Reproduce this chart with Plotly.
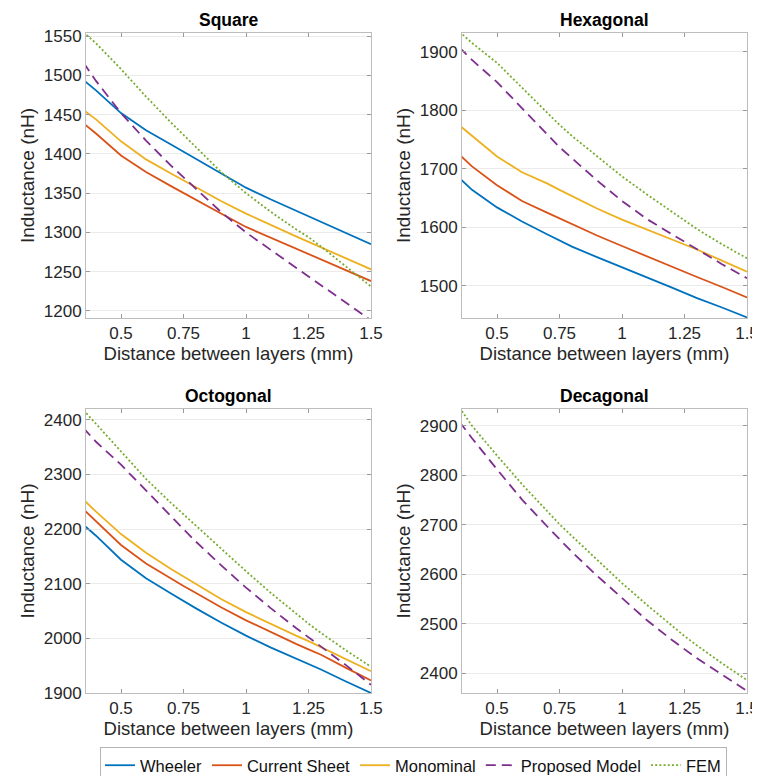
import plotly.graph_objects as go

# ---------------- data ----------------
x_mm = [0.35, 0.4, 0.5, 0.6, 0.7, 0.75, 0.8, 0.9, 1.0, 1.1, 1.2, 1.25, 1.3, 1.4, 1.5]

series_names = ["Wheeler", "Current Sheet", "Monominal", "Proposed Model", "FEM"]

# Square
sq_wheeler  = [1494, 1481, 1452, 1430, 1412, 1403, 1394, 1375, 1357, 1342, 1328, 1320, 1314, 1300, 1285]
sq_current  = [1439, 1426, 1398, 1377, 1359, 1350, 1342, 1324, 1307, 1293, 1280, 1273, 1266, 1252, 1238]
sq_monom    = [1456, 1444, 1416, 1393, 1375, 1366, 1358, 1340, 1324, 1309, 1295, 1288, 1281, 1267, 1253]
sq_proposed = [1516, 1493, 1452, 1417, 1385, 1370, 1356, 1326, 1300, 1277, 1255, 1244, 1233, 1210, 1188]
sq_fem      = [1555, 1541, 1508, 1473, 1440, 1424, 1408, 1377, 1350, 1326, 1304, 1294, 1282, 1257, 1231]

# Hexagonal
hx_wheeler  = [1684, 1664, 1634, 1610, 1588, 1577, 1567, 1549, 1532, 1514, 1497, 1488, 1479, 1463, 1446]
hx_current  = [1724, 1704, 1672, 1645, 1625, 1615, 1605, 1586, 1568, 1550, 1532, 1523, 1515, 1498, 1480]
hx_monom    = [1774, 1756, 1721, 1694, 1675, 1664, 1653, 1632, 1613, 1596, 1580, 1571, 1562, 1543, 1524]
hx_proposed = [1907, 1886, 1848, 1803, 1758, 1737, 1718, 1680, 1645, 1614, 1588, 1575, 1562, 1537, 1513]
hx_fem      = [1934, 1915, 1881, 1838, 1795, 1775, 1756, 1721, 1687, 1656, 1626, 1611, 1597, 1571, 1547]

# Octogonal
oc_wheeler  = [2208, 2188, 2144, 2110, 2082, 2068, 2055, 2029, 2005, 1983, 1963, 1953, 1943, 1921, 1900]
oc_current  = [2236, 2214, 2171, 2137, 2109, 2096, 2083, 2057, 2033, 2011, 1990, 1980, 1970, 1946, 1923]
oc_monom    = [2254, 2232, 2191, 2157, 2127, 2113, 2099, 2072, 2048, 2026, 2005, 1995, 1984, 1962, 1940]
oc_proposed = [2385, 2360, 2318, 2270, 2224, 2200, 2177, 2134, 2093, 2055, 2019, 2002, 1985, 1951, 1915]
oc_fem      = [2418, 2393, 2343, 2292, 2248, 2227, 2207, 2165, 2123, 2083, 2045, 2027, 2010, 1978, 1948]

# Decagonal (only proposed model and FEM)
dc_proposed = [2908, 2875, 2812, 2751, 2697, 2670, 2645, 2597, 2551, 2507, 2467, 2448, 2430, 2397, 2364]
dc_fem      = [2937, 2900, 2840, 2782, 2728, 2701, 2677, 2629, 2582, 2538, 2495, 2475, 2456, 2420, 2386]

panel_titles = ["Square", "Hexagonal", "Octogonal", "Decagonal"]
x_tickvals = [0.5, 0.75, 1.0, 1.25, 1.5]
x_ticktext = ["0.5", "0.75", "1", "1.25", "1.5"]
sq_yticks = [1200, 1250, 1300, 1350, 1400, 1450, 1500, 1550]
hx_yticks = [1500, 1600, 1700, 1800, 1900]
oc_yticks = [1900, 2000, 2100, 2200, 2300, 2400]
dc_yticks = [2400, 2500, 2600, 2700, 2800, 2900]

x_title = "Distance between layers (mm)"
y_title = "Inductance (nH)"

# ---------------- styling ----------------
W, H = 760, 776
OFF = 8  # page body margin offset
colors = {"Wheeler": "#0072BD", "Current Sheet": "#D95319", "Monominal": "#EDB120",
          "Proposed Model": "#7E2F8E", "FEM": "#77AC30"}
dashes = {"Wheeler": "solid", "Current Sheet": "solid", "Monominal": "solid",
          "Proposed Model": "10px,6px", "FEM": "2px,2.2px"}
FONT = "Liberation Sans, Arial, Helvetica, sans-serif"
TXT = "#262626"
AX = "#bdbdbd"
GRID = "#ebebeb"

def px_x(a, b):
    return [(a - OFF) / W, (b - OFF) / W]

def px_y(top, bottom):
    return [1 - (bottom - OFF) / H, 1 - (top - OFF) / H]

xdoms = [px_x(86, 371), px_x(462, 747), px_x(86, 371), px_x(462, 747)]
ydoms = [px_y(33, 318), px_y(33, 318), px_y(409, 693), px_y(409, 693)]
yranges = [[1191, 1554], [1445, 1932], [1900, 2420], [2360, 2934]]
yticks = [sq_yticks, hx_yticks, oc_yticks, dc_yticks]

panels = [
    {"Wheeler": sq_wheeler, "Current Sheet": sq_current, "Monominal": sq_monom,
     "Proposed Model": sq_proposed, "FEM": sq_fem},
    {"Wheeler": hx_wheeler, "Current Sheet": hx_current, "Monominal": hx_monom,
     "Proposed Model": hx_proposed, "FEM": hx_fem},
    {"Wheeler": oc_wheeler, "Current Sheet": oc_current, "Monominal": oc_monom,
     "Proposed Model": oc_proposed, "FEM": oc_fem},
    {"Proposed Model": dc_proposed, "FEM": dc_fem},
]

fig = go.Figure()
layout = dict(
    width=W, height=H,
    margin=dict(l=0, r=0, t=0, b=0, autoexpand=False),
    paper_bgcolor="white", plot_bgcolor="white",
    font=dict(family=FONT, color=TXT, size=17),
    showlegend=True,
    legend=dict(orientation="h", x=(100 - OFF) / W, xanchor="left",
                y=1 - (747 - OFF) / H, yanchor="top",
                xref="container", yref="container",
                bordercolor="#b5b5b5", borderwidth=1, bgcolor="white",
                font=dict(size=16.5, color="#111111", family=FONT),
                tracegroupgap=0, itemwidth=30),
    annotations=[],
)

for i, data in enumerate(panels):
    k = "" if i == 0 else str(i + 1)
    for name in series_names:
        if name not in data:
            continue
        fig.add_trace(go.Scatter(
            x=x_mm, y=data[name], mode="lines", name=name,
            line=dict(color=colors[name], width=1.8, dash=dashes[name]),
            xaxis="x" + k, yaxis="y" + k,
            showlegend=(i == 0), legendgroup=name,
        ))
    layout["xaxis" + k] = dict(
        domain=xdoms[i], range=[0.36, 1.5], anchor="y" + k,
        tickvals=x_tickvals, ticktext=x_ticktext,
        ticks="inside", ticklen=4, tickcolor="#9a9a9a",
        showline=True, linecolor=AX, linewidth=1, mirror="ticks",
        showgrid=False, zeroline=False, automargin=False,
        tickfont=dict(size=17, color=TXT),
        title=dict(text=x_title, font=dict(size=18.5, color=TXT), standoff=4),
    )
    layout["yaxis" + k] = dict(
        domain=ydoms[i], range=yranges[i], anchor="x" + k,
        tickvals=yticks[i],
        ticks="inside", ticklen=4, tickcolor="#9a9a9a",
        showline=True, linecolor=AX, linewidth=1, mirror="ticks",
        showgrid=True, gridcolor=GRID, gridwidth=1, zeroline=False, automargin=False,
        tickfont=dict(size=17, color=TXT),
        title=dict(text=y_title, font=dict(size=19, color=TXT), standoff=4),
    )
    layout["annotations"].append(dict(
        text="<b>" + panel_titles[i] + "</b>", x=sum(xdoms[i]) / 2, y=ydoms[i][1],
        xref="paper", yref="paper", xanchor="center", yanchor="bottom", yshift=1,
        showarrow=False, font=dict(size=17.5, color="#000000", family=FONT),
    ))

fig.update_layout(**layout)
fig.write_html("out.html")
